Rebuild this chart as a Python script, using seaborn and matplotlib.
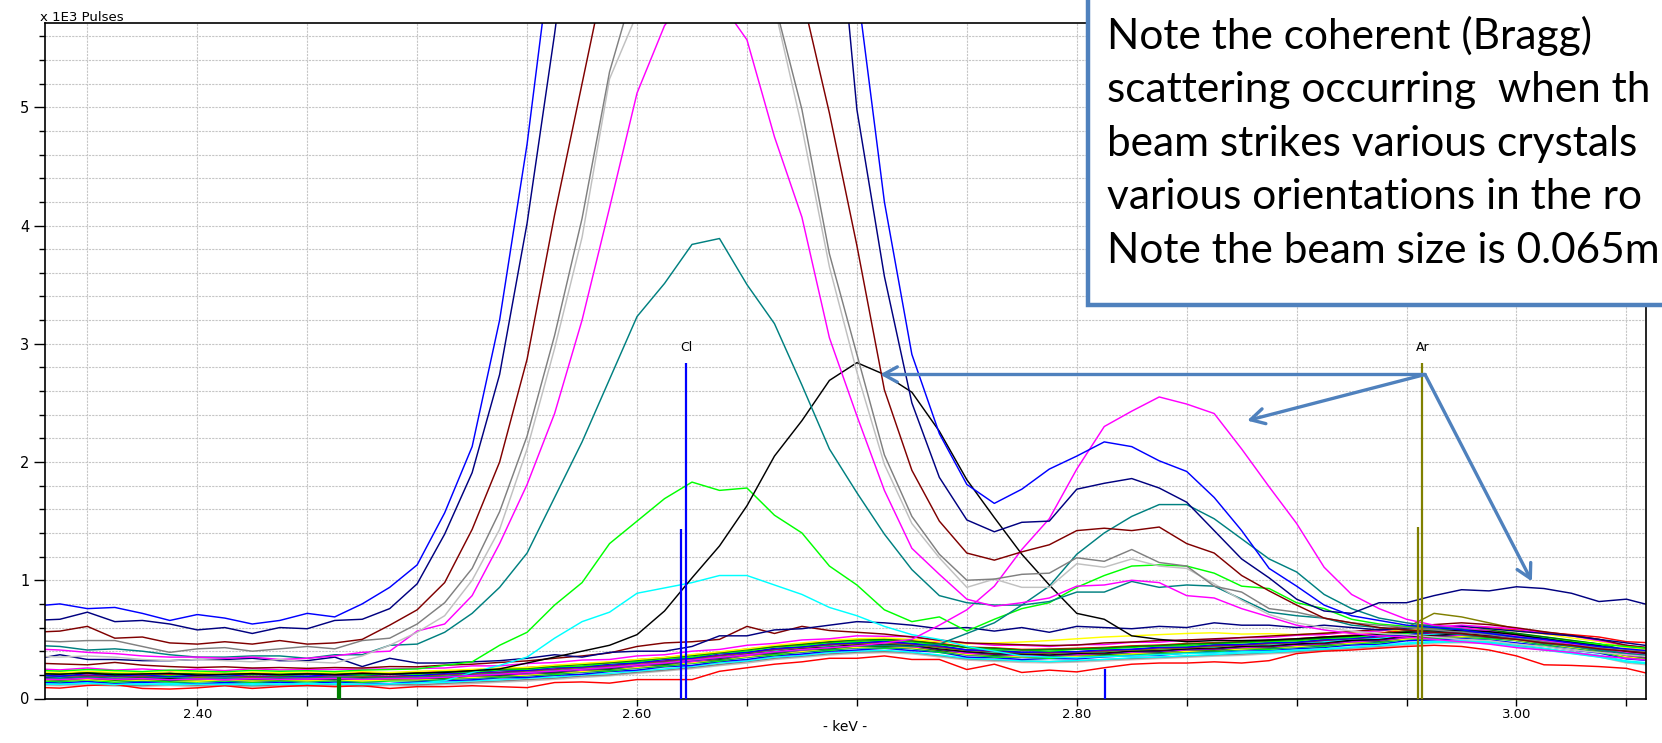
import matplotlib
matplotlib.use("Agg")
import matplotlib.pyplot as plt
import seaborn as sns
import pandas as pd
from matplotlib.patches import Rectangle
from matplotlib.ticker import MultipleLocator, FormatStrFormatter

# ---------------- data ----------------
energy_kev = [2.325, 2.3375, 2.35, 2.3625, 2.375, 2.3875, 2.40, 2.4125, 2.425, 2.4375,
              2.45, 2.4625, 2.475, 2.4875, 2.50, 2.5125, 2.525, 2.5375, 2.55, 2.5625,
              2.575, 2.5875, 2.60, 2.6125, 2.625, 2.6375, 2.65, 2.6625, 2.675, 2.6875,
              2.70, 2.7125, 2.725, 2.7375, 2.75, 2.7625, 2.775, 2.7875, 2.80, 2.8125,
              2.825, 2.8375, 2.85, 2.8625, 2.875, 2.8875, 2.90, 2.9125, 2.925, 2.9375,
              2.95, 2.9625, 2.975, 2.9875, 3.00, 3.0125, 3.025, 3.0375, 3.05, 3.0625]

# counts in pulses (axis shows x 1E3 pulses)
red_low = [95, 88, 110, 118, 85, 80, 90, 108, 85, 100, 110, 100, 108, 85, 100, 100, 108, 100, 92, 135,
           140, 130, 160, 160, 160, 230, 260, 290, 310, 340, 340, 360, 330, 330, 245, 290, 220, 240, 225, 260,
           290, 300, 300, 310, 300, 320, 380, 400, 410, 425, 440, 450, 440, 410, 360, 285, 280, 270, 255, 200]
blue_b = [140, 132, 145, 128, 136, 142, 126, 135, 130, 138, 128, 140, 133, 126, 142, 150, 158, 175, 178, 196,
          205, 228, 240, 268, 280, 312, 330, 362, 376, 400, 410, 425, 405, 392, 350, 345, 330, 338, 335, 352,
          362, 365, 385, 388, 400, 405, 420, 432, 452, 460, 488, 496, 508, 495, 470, 445, 410, 385, 335, 318]
lime_b = [212, 205, 218, 200, 210, 198, 208, 200, 212, 196, 205, 210, 198, 212, 206, 222, 225, 242, 248, 268,
          275, 300, 312, 338, 350, 385, 402, 435, 448, 472, 482, 495, 478, 455, 430, 410, 412, 400, 416, 420,
          432, 445, 446, 465, 470, 482, 488, 508, 516, 540, 552, 575, 572, 578, 545, 520, 488, 460, 405, 388]
yellow_b = [225, 218, 230, 222, 215, 226, 220, 212, 224, 218, 225, 216, 228, 220, 230, 238, 246, 258, 262, 282,
            296, 312, 330, 348, 372, 395, 420, 450, 470, 492, 505, 512, 500, 480, 462, 470, 478, 490, 505, 520,
            530, 540, 550, 556, 545, 548, 540, 552, 560, 572, 585, 598, 600, 590, 572, 545, 512, 482, 430, 410]
cyan_b = [130, 122, 135, 125, 118, 128, 120, 126, 115, 124, 120, 128, 118, 125, 132, 136, 150, 158, 172, 182,
          200, 212, 232, 250, 272, 300, 318, 350, 365, 388, 400, 408, 392, 368, 340, 330, 318, 312, 322, 330,
          345, 350, 362, 372, 385, 390, 405, 418, 432, 450, 470, 482, 490, 480, 455, 425, 392, 365, 318, 298]
magenta_b = [172, 168, 175, 165, 170, 162, 168, 158, 165, 170, 162, 170, 165, 172, 168, 182, 190, 202, 208, 228,
             240, 258, 272, 298, 312, 340, 362, 392, 408, 432, 448, 452, 438, 418, 382, 375, 362, 368, 370, 382,
             392, 398, 412, 418, 432, 438, 452, 462, 480, 492, 515, 528, 535, 530, 505, 472, 445, 412, 365, 345]
maroon_b = [300, 292, 285, 305, 282, 270, 262, 268, 258, 262, 255, 262, 258, 270, 268, 282, 290, 305, 318, 340,
            360, 385, 440, 470, 480, 500, 610, 550, 610, 575, 560, 545, 520, 495, 470, 462, 455, 448, 452, 470,
            478, 490, 495, 505, 515, 528, 540, 552, 565, 585, 605, 625, 640, 625, 598, 565, 535, 500, 450, 425]
navy_top = [330, 370, 330, 330, 320, 320, 330, 330, 340, 320, 320, 350, 270, 340, 300, 300, 310, 320, 340, 370,
            350, 390, 400, 400, 440, 530, 530, 580, 590, 620, 650, 640, 620, 590, 600, 570, 600, 560, 610, 600,
            590, 610, 600, 640, 620, 620, 600, 620, 600, 580, 590, 600, 610, 590, 570, 550, 530, 500, 470, 440]
green_b = [218, 210, 222, 212, 205, 215, 208, 212, 200, 210, 208, 215, 210, 218, 212, 228, 235, 250, 255, 275,
           288, 305, 322, 345, 362, 390, 412, 440, 458, 480, 495, 500, 488, 462, 432, 425, 410, 415, 418, 428,
           440, 448, 460, 468, 478, 490, 498, 512, 528, 545, 565, 578, 585, 578, 552, 522, 492, 462, 410, 392]
olive_b = [195, 188, 192, 182, 185, 190, 180, 186, 178, 182, 185, 178, 186, 182, 190, 198, 212, 218, 232, 245,
           262, 275, 295, 312, 335, 360, 385, 412, 430, 452, 462, 470, 455, 432, 405, 395, 385, 382, 390, 398,
           410, 418, 428, 440, 450, 462, 475, 492, 512, 545, 600, 720, 690, 640, 590, 560, 530, 500, 440, 410]
teal_b = [158, 150, 162, 152, 145, 155, 148, 152, 142, 150, 148, 152, 145, 155, 150, 165, 172, 185, 192, 212,
          222, 240, 258, 280, 300, 325, 348, 378, 392, 415, 428, 435, 422, 398, 368, 360, 350, 352, 355, 368,
          375, 385, 395, 402, 415, 425, 432, 450, 465, 478, 500, 512, 520, 515, 490, 458, 428, 400, 352, 332]
purple_b = [198, 190, 195, 188, 192, 185, 190, 196, 185, 190, 186, 192, 195, 188, 196, 205, 218, 222, 238, 250,
            268, 278, 302, 318, 342, 365, 392, 415, 438, 455, 472, 478, 462, 440, 412, 398, 392, 388, 395, 405,
            415, 428, 432, 448, 452, 468, 472, 492, 505, 520, 540, 555, 562, 552, 530, 498, 470, 438, 390, 370]
gray_b = [122, 118, 128, 115, 110, 120, 112, 118, 108, 115, 112, 118, 110, 120, 115, 128, 138, 148, 160, 172,
          190, 200, 222, 240, 262, 288, 312, 340, 358, 378, 392, 398, 388, 362, 335, 325, 318, 312, 318, 330,
          338, 348, 358, 368, 375, 388, 398, 412, 428, 442, 462, 478, 482, 478, 452, 422, 392, 362, 310, 292]
silver_b = [112, 108, 115, 105, 102, 110, 100, 108, 98, 105, 102, 108, 100, 110, 105, 118, 126, 138, 148, 162,
            178, 192, 212, 232, 252, 278, 300, 330, 348, 368, 382, 388, 378, 352, 325, 315, 305, 302, 308, 318,
            328, 338, 348, 358, 365, 378, 388, 402, 418, 432, 452, 468, 472, 465, 442, 412, 382, 352, 300, 280]
black_b = [182, 178, 188, 175, 180, 172, 178, 182, 172, 180, 175, 182, 178, 185, 180, 192, 202, 215, 222, 238,
           252, 268, 288, 305, 328, 352, 378, 400, 422, 440, 455, 462, 450, 425, 398, 388, 378, 375, 382, 392,
           402, 412, 420, 432, 440, 452, 462, 478, 492, 505, 528, 540, 545, 538, 515, 485, 455, 425, 375, 355]
red_b = [215, 222, 210, 220, 212, 205, 215, 210, 218, 208, 215, 208, 220, 212, 218, 232, 238, 252, 262, 278,
         292, 305, 328, 345, 368, 390, 418, 440, 462, 480, 498, 502, 490, 468, 435, 428, 415, 418, 425, 432,
         445, 452, 465, 472, 480, 492, 505, 520, 535, 552, 575, 592, 600, 598, 580, 560, 540, 520, 480, 470]
blue_b2 = [200, 188, 210, 192, 202, 185, 198, 190, 205, 195, 188, 204, 196, 208, 194, 214, 220, 236, 238, 262,
           268, 290, 302, 330, 342, 378, 390, 425, 436, 466, 470, 486, 466, 448, 410, 410, 390, 398, 396, 414,
           416, 434, 436, 456, 458, 474, 476, 500, 508, 530, 540, 566, 560, 566, 530, 510, 470, 450, 390, 380]
lime_b2 = [152, 142, 156, 138, 150, 140, 140, 148, 136, 148, 140, 150, 138, 148, 152, 158, 175, 178, 194, 202,
           224, 232, 258, 272, 298, 316, 350, 366, 394, 406, 430, 426, 424, 390, 370, 350, 350, 340, 355, 356,
           375, 376, 394, 396, 415, 416, 435, 440, 465, 470, 500, 505, 520, 505, 490, 450, 430, 390, 350, 320]
cyan_b2 = [192, 182, 196, 178, 190, 180, 182, 182, 184, 180, 184, 182, 186, 184, 190, 194, 214, 216, 234, 242,
           264, 272, 300, 312, 340, 356, 390, 406, 436, 446, 470, 466, 464, 430, 410, 390, 390, 380, 394, 396,
           414, 416, 434, 436, 454, 456, 474, 480, 505, 510, 540, 545, 560, 545, 530, 490, 470, 430, 390, 360]
magenta_b2 = [252, 242, 258, 240, 250, 236, 248, 236, 252, 242, 244, 246, 248, 250, 254, 258, 276, 276, 296, 304,
              325, 330, 360, 370, 400, 415, 450, 466, 495, 505, 530, 526, 524, 490, 470, 450, 450, 440, 455, 456,
              475, 476, 495, 496, 515, 516, 535, 540, 565, 570, 600, 605, 620, 605, 590, 550, 530, 490, 450, 420]
green_b2 = [168, 156, 172, 155, 165, 152, 163, 162, 160, 158, 162, 162, 164, 165, 168, 172, 190, 192, 210, 216,
            240, 246, 275, 286, 315, 330, 365, 380, 410, 420, 445, 440, 440, 405, 385, 365, 365, 355, 370, 370,
            390, 390, 410, 410, 430, 430, 450, 455, 480, 485, 515, 520, 535, 520, 505, 465, 445, 405, 365, 335]
maroon_b2 = [183, 172, 188, 168, 182, 166, 180, 176, 174, 174, 176, 176, 179, 178, 182, 186, 204, 206, 224, 230,
             254, 260, 290, 300, 330, 345, 380, 395, 425, 435, 460, 455, 455, 420, 400, 380, 380, 370, 385, 385,
             405, 405, 425, 425, 445, 445, 465, 470, 495, 500, 530, 535, 550, 535, 520, 480, 460, 420, 380, 350]
navy_b2 = [175, 164, 181, 162, 173, 158, 171, 170, 165, 166, 168, 168, 171, 172, 174, 180, 199, 200, 219, 225,
           249, 255, 285, 295, 325, 340, 375, 390, 420, 430, 455, 450, 450, 415, 395, 375, 375, 365, 380, 380,
           400, 400, 420, 420, 440, 440, 460, 465, 490, 495, 525, 530, 545, 530, 515, 475, 455, 415, 375, 345]
yellow_b2 = [158, 157, 160, 152, 156, 154, 146, 158, 148, 157, 150, 160, 148, 158, 158, 172, 178, 192, 198, 217,
             228, 247, 263, 287, 303, 332, 353, 382, 398, 422, 433, 442, 428, 407, 373, 367, 353, 357, 358, 372,
             378, 392, 398, 412, 418, 432, 438, 457, 468, 487, 503, 522, 523, 522, 493, 467, 433, 407, 353, 337]

# spectra with strong peaks / Bragg contributions
blue_peak = [780, 800, 760, 770, 720, 660, 710, 680, 630, 660, 720, 690, 800, 940, 1130, 1570, 2130, 3200, 4690, 6540,
             8600, 10500, 12000, 13000, 13400, 13200, 12400, 11000, 9300, 7600, 6030, 4200, 2910, 2240, 1810, 1650, 1770, 1940, 2050, 2170,
             2130, 2010, 1920, 1700, 1420, 1100, 950, 790, 700, 660, 620, 600, 580, 550, 520, 500, 470, 440, 420, 400]
navy_peak = [660, 670, 730, 650, 660, 630, 580, 600, 550, 600, 590, 660, 670, 760, 970, 1390, 1910, 2740, 4020, 5620,
             7400, 9200, 10600, 11500, 11800, 11600, 11400, 10600, 9200, 7500, 4980, 3570, 2500, 1870, 1510, 1410, 1490, 1500, 1770, 1820,
             1860, 1780, 1660, 1420, 1180, 1020, 840, 740, 720, 810, 810, 870, 920, 910, 945, 930, 890, 820, 840, 780]
maroon_peak = [560, 570, 610, 510, 520, 470, 460, 480, 460, 490, 460, 470, 500, 620, 750, 980, 1430, 2000, 2870, 4090,
               5200, 6310, 7400, 8200, 8600, 8500, 7900, 6900, 5950, 4950, 3830, 2610, 1930, 1500, 1230, 1170, 1240, 1300, 1420, 1440,
               1420, 1450, 1310, 1230, 1040, 910, 790, 680, 640, 600, 580, 560, 550, 520, 500, 470, 450, 420, 400, 380]
gray_peak = [490, 480, 490, 490, 440, 390, 420, 430, 400, 420, 440, 420, 490, 510, 630, 810, 1100, 1580, 2220, 3070,
             4060, 5300, 6100, 7000, 7500, 7600, 7000, 5890, 4980, 3760, 2910, 2060, 1540, 1220, 1000, 1010, 1050, 1060, 1190, 1160,
             1260, 1150, 1120, 950, 900, 760, 730, 680, 640, 620, 600, 580, 560, 540, 510, 480, 450, 430, 410, 390]
silver_peak = [360, 350, 360, 350, 330, 320, 330, 320, 310, 330, 310, 300, 360, 450, 560, 700, 1000, 1430, 2110, 2960,
               3900, 5240, 5790, 6500, 7000, 7000, 6600, 5850, 4830, 3650, 2760, 1980, 1480, 1190, 940, 1010, 940, 940, 1140, 1110,
               1180, 1120, 1100, 970, 830, 710, 640, 600, 570, 550, 540, 520, 500, 490, 460, 440, 410, 390, 370, 350]
magenta_peak = [420, 410, 390, 380, 360, 350, 350, 340, 350, 330, 340, 360, 390, 400, 570, 630, 870, 1310, 1810, 2410,
                3200, 4150, 5120, 5690, 6000, 5900, 5570, 4750, 4070, 3050, 2390, 1760, 1270, 1050, 840, 780, 810, 850, 950, 960,
                1000, 980, 870, 850, 760, 690, 620, 580, 550, 530, 520, 500, 480, 460, 430, 410, 390, 360, 340, 320]
teal_peak = [450, 440, 410, 420, 400, 370, 350, 350, 360, 360, 340, 370, 370, 450, 460, 560, 720, 940, 1230, 1700,
             2170, 2700, 3230, 3510, 3840, 3890, 3500, 3170, 2650, 2110, 1740, 1390, 1090, 870, 810, 790, 790, 820, 900, 900,
             990, 940, 960, 950, 840, 730, 700, 680, 620, 600, 580, 560, 540, 520, 500, 470, 440, 410, 380, 360]
green_peak = [240, 232, 245, 236, 228, 240, 232, 226, 238, 230, 235, 228, 240, 245, 250, 280, 310, 450, 560, 790,
              980, 1310, 1500, 1690, 1830, 1760, 1780, 1550, 1400, 1120, 960, 750, 650, 690, 570, 670, 760, 810, 940, 1040,
              1120, 1130, 1120, 1060, 950, 930, 810, 760, 670, 630, 610, 600, 580, 560, 530, 500, 480, 460, 440, 420]
cyan_peak = [125, 120, 128, 118, 125, 115, 122, 118, 125, 120, 128, 122, 118, 125, 130, 150, 220, 280, 350, 510,
             650, 730, 890, 935, 980, 1040, 1040, 960, 880, 770, 700, 610, 540, 500, 440, 400, 360, 350, 345, 355,
             360, 370, 380, 385, 395, 400, 410, 420, 435, 448, 462, 475, 480, 470, 440, 410, 380, 350, 310, 290]
black_peak = [210, 205, 215, 200, 208, 212, 198, 205, 210, 200, 208, 202, 212, 205, 215, 220, 235, 250, 300, 350,
              400, 450, 540, 740, 1020, 1290, 1630, 2050, 2350, 2690, 2840, 2740, 2590, 2260, 1850, 1530, 1220, 960, 720, 670,
              530, 500, 480, 490, 490, 495, 505, 520, 530, 545, 560, 570, 575, 565, 540, 505, 475, 445, 400, 375]
magenta_bragg = [165, 160, 170, 162, 168, 158, 165, 160, 168, 162, 165, 170, 162, 168, 172, 180, 195, 205, 220, 232,
                 248, 262, 285, 300, 325, 348, 370, 395, 415, 430, 445, 470, 500, 620, 750, 950, 1260, 1520, 1940, 2300,
                 2430, 2550, 2490, 2410, 2110, 1790, 1480, 1110, 880, 760, 670, 620, 600, 570, 530, 490, 460, 430, 390, 370]
teal_bragg = [175, 170, 180, 168, 172, 178, 166, 172, 168, 175, 170, 176, 168, 174, 178, 185, 198, 210, 218, 232,
              248, 262, 282, 300, 322, 345, 370, 392, 412, 430, 445, 450, 440, 460, 550, 640, 790, 950, 1220, 1400,
              1540, 1640, 1640, 1520, 1350, 1180, 1070, 880, 760, 680, 640, 610, 590, 560, 520, 480, 450, 420, 380, 360]

# element marker lines (keV, height in 1E3 pulses)
marker_kev = [2.4638, 2.4650, 2.6200, 2.6224, 2.8130, 2.9551, 2.9572]
marker_top = [0.18, 0.18, 1.43, 2.84, 0.25, 1.45, 2.84]
marker_color = ["#008000", "#008000", "#0000FF", "#0000FF", "#0000FF", "#808000", "#808000"]
element_labels = ["Cl", "Ar"]
element_label_kev = [2.6224, 2.9572]

series = [
    ("silver_b", "#C0C0C0", silver_b), ("gray_b", "#808080", gray_b), ("cyan_b", "#00FFFF", cyan_b),
    ("blue_b", "#0000FF", blue_b), ("lime_b2", "#00FF00", lime_b2), ("teal_b", "#008080", teal_b),
    ("yellow_b2", "#FFFF00", yellow_b2), ("green_b2", "#008000", green_b2), ("magenta_b", "#FF00FF", magenta_b),
    ("navy_b2", "#000080", navy_b2), ("maroon_b2", "#800000", maroon_b2), ("black_b", "#000000", black_b),
    ("cyan_b2", "#00FFFF", cyan_b2), ("olive_b", "#808000", olive_b), ("purple_b", "#800080", purple_b),
    ("blue_b2", "#0000FF", blue_b2), ("lime_b", "#00FF00", lime_b), ("red_b", "#FF0000", red_b),
    ("green_b", "#008000", green_b), ("yellow_b", "#FFFF00", yellow_b), ("magenta_b2", "#FF00FF", magenta_b2),
    ("maroon_b", "#800000", maroon_b), ("navy_top", "#000080", navy_top), ("red_low", "#FF0000", red_low),
    ("cyan_peak", "#00FFFF", cyan_peak), ("green_peak", "#00FF00", green_peak),
    ("teal_bragg", "#008080", teal_bragg), ("magenta_bragg", "#FF00FF", magenta_bragg),
    ("black_peak", "#000000", black_peak), ("teal_peak", "#008080", teal_peak),
    ("magenta_peak", "#FF00FF", magenta_peak), ("silver_peak", "#C0C0C0", silver_peak),
    ("gray_peak", "#808080", gray_peak), ("maroon_peak", "#800000", maroon_peak),
    ("navy_peak", "#000080", navy_peak), ("blue_peak", "#0000FF", blue_peak),
]

rows = []
for name, col, vals in series:
    assert len(vals) == len(energy_kev), name
    for e, v in zip(energy_kev, vals):
        rows.append((name, e, v / 1000.0))
df = pd.DataFrame(rows, columns=["series", "keV", "kpulses"])
palette = {name: col for name, col, _ in series}
order = [name for name, _, _ in series]

# ---------------- figure ----------------
W, H = 1662, 743
fig = plt.figure(figsize=(W / 100, H / 100), dpi=100)
ax_l, ax_r, ax_t, ax_b = 44.5, 1646, 23.3, 698.5
ax = fig.add_axes([ax_l / W, (H - ax_b) / H, (ax_r - ax_l) / W, (ax_b - ax_t) / H])

sns.lineplot(data=df, x="keV", y="kpulses", hue="series", hue_order=order, palette=palette,
             estimator=None, sort=False, legend=False, linewidth=1.05, ax=ax)

ax.set_xlim(2.3305, 3.0589)
ax.set_ylim(0, 5.71)
ax.set_xlabel("")
ax.set_ylabel("")

ax.xaxis.set_major_locator(MultipleLocator(0.2))
ax.xaxis.set_minor_locator(MultipleLocator(0.05))
ax.xaxis.set_major_formatter(FormatStrFormatter("%.2f"))
ax.yaxis.set_major_locator(MultipleLocator(1))
ax.yaxis.set_minor_locator(MultipleLocator(0.2))
ax.yaxis.set_major_formatter(FormatStrFormatter("%d"))

ax.grid(which="both", color="#c6c6c6", linestyle=(0, (2, 1)), linewidth=0.8)
ax.set_axisbelow(True)
ax.tick_params(axis="x", which="both", direction="out", length=5, width=1, pad=1.5,
               labelsize=9.5, colors="black")
ax.tick_params(axis="y", which="major", direction="out", length=8, width=1, pad=3, labelsize=10.5)
ax.tick_params(axis="y", which="minor", direction="out", length=4.5, width=1)
for sp in ax.spines.values():
    sp.set_color("black")
    sp.set_linewidth(1.2)

# element markers
ax.vlines(marker_kev, 0, marker_top, colors=marker_color, linewidth=1.6, zorder=5)
for lab, xk in zip(element_labels, element_label_kev):
    ax.text(xk, 2.965, lab, ha="center", va="center", fontsize=9, family="DejaVu Sans", zorder=6)

fig.text(40 / W, 1 - 21 / H, "x 1E3 Pulses", fontsize=9.5, family="DejaVu Sans", va="baseline", ha="left")
fig.text((ax_l + ax_r) / 2 / W, 1 - 727 / H, "- keV -", fontsize=10, family="DejaVu Sans",
         va="center", ha="center")

# annotation arrows
arrow_start = (2.9584, 2.74)
arrow_tips = [(2.7105, 2.74), (2.8775, 2.35), (3.007, 0.99)]
for tip in arrow_tips:
    ax.annotate("", xy=tip, xytext=arrow_start, annotation_clip=False, zorder=8,
                arrowprops=dict(arrowstyle="->,head_length=1.0,head_width=0.55", color="#4F81BD",
                                lw=2.4, shrinkA=0, shrinkB=0, mutation_scale=10))

# note box (extends past the top and right edges of the figure, as in the reference)
box_left, box_bottom = 1088, 305
rect = Rectangle((box_left / W, (H - box_bottom) / H), 1.0, 1.0, transform=fig.transFigure,
                 facecolor="white", edgecolor="#4F81BD", linewidth=3.2, zorder=20)
fig.add_artist(rect)
# the visible part of the note (the reference crops it at the right edge)
note_lines = ["Note the coherent (Bragg)", "scattering occurring  when th",
              "beam strikes various crystals", "various orientations in the ro",
              "Note the beam size is 0.065m"]
baselines = [48.8, 102.3, 155.8, 209.3, 262.8]
for txt, bl in zip(note_lines, baselines):
    fig.text(1107 / W, 1 - bl / H, txt, fontsize=30.5, family="Lato", va="baseline", ha="left",
             color="black", zorder=21)

fig.savefig("out.png", dpi=100)
